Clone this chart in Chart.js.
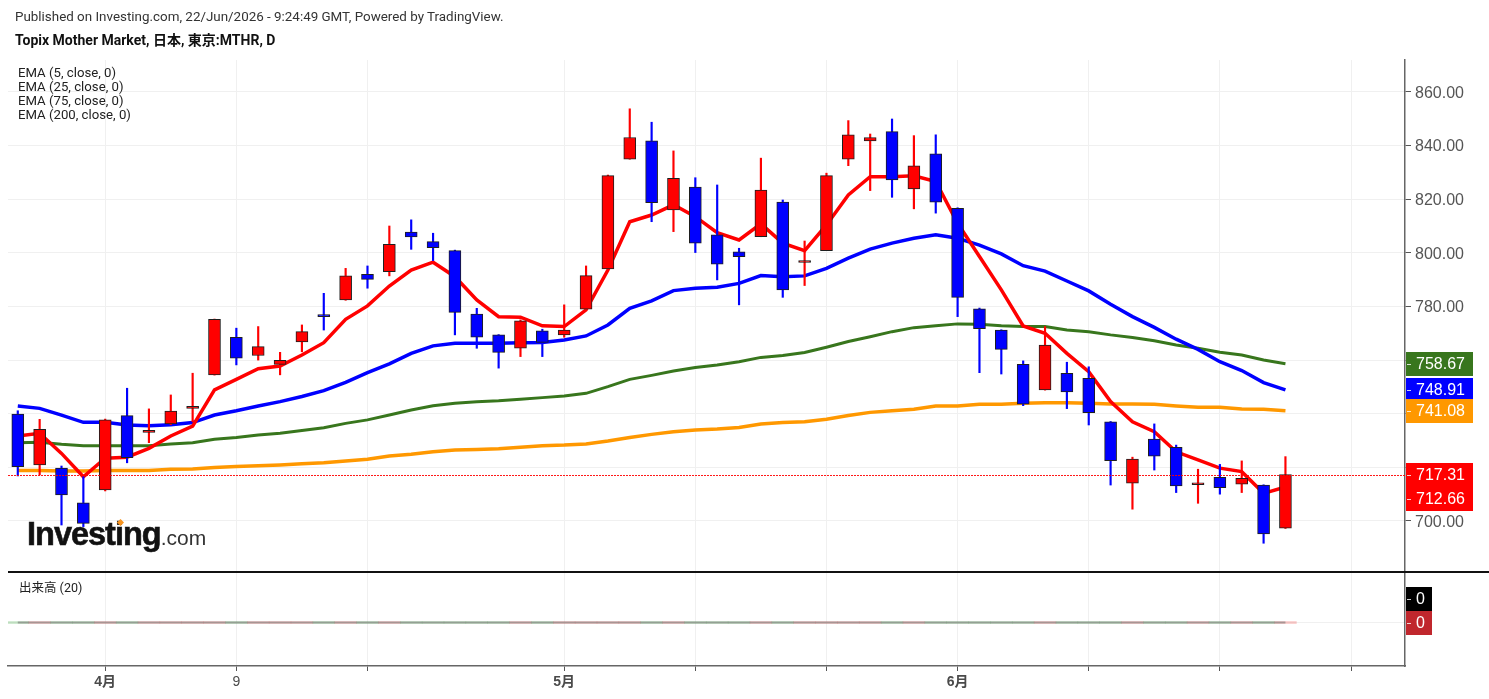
<!DOCTYPE html>
<html>
<head>
<meta charset="utf-8">
<script src="https://cdn.jsdelivr.net/npm/chart.js@4.4.1/dist/chart.umd.min.js"></script>
<style>
  body { margin: 0; background: #fff; width: 1489px; height: 699px; overflow: hidden; position: relative; font-family: Roboto, "Noto Sans CJK JP", sans-serif; color: #222; }
  #price { position: absolute; left: 0; top: 0; }
  #vol { position: absolute; left: 0; top: 572px; }
  #sep { position: absolute; left: 8px; top: 571px; width: 1481px; height: 2px; background: #111; }
  .txt { position: absolute; white-space: nowrap; }
  #pub { left: 15px; top: 9px; font-size: 13.4px; line-height: 16px; color: #333; }
  #title { left: 15px; top: 32px; font-size: 14px; line-height: 16px; font-weight: bold; color: #111; }
  #legend { left: 18px; top: 65.5px; font-size: 13.2px; line-height: 14.2px; color: #222; }
  #vlabel { left: 19px; top: 580px; font-size: 12.5px; line-height: 16px; color: #222; }
  #logo { left: 27px; top: 518px; font-family: "Liberation Sans", Arial, sans-serif; line-height: 32px; }
  #logo .a { font-size: 32.5px; font-weight: bold; letter-spacing: -1px; color: #111; -webkit-text-stroke: 0.6px #111; }
  #logo .b { font-size: 21px; color: #333; }
  #dot { position: absolute; left: 118px; top: 520px; width: 5px; height: 5px; background: #f7931e; transform: rotate(45deg); }
</style>
</head>
<body>
<canvas id="price" width="1489" height="571"></canvas>
<canvas id="vol" width="1489" height="127"></canvas>
<div id="sep"></div>
<div class="txt" id="pub">Published on Investing.com, 22/Jun/2026 - 9:24:49 GMT, Powered by TradingView.</div>
<div class="txt" id="title">Topix Mother Market, 日本, 東京:MTHR, D</div>
<div class="txt" id="legend">EMA (5, close, 0)<br>EMA (25, close, 0)<br>EMA (75, close, 0)<br>EMA (200, close, 0)</div>
<div class="txt" id="vlabel">出来高 (20)</div>
<div class="txt" id="logo"><span class="a">Investing</span><span class="b">.com</span></div>
<div id="dot"></div>
<script>
// daily candles
const opens = [739.9, 720.9, 719.7, 706.8, 711.6, 739.3, 733.0, 736.2, 742.0, 754.5,
  768.5, 761.7, 758.4, 766.8, 776.9, 782.4, 792.0, 793.0, 807.7, 804.2,
  800.8, 777.2, 769.4, 764.4, 770.9, 769.4, 779.0, 794.0, 834.9, 841.8,
  816.0, 824.5, 806.7, 800.4, 806.0, 818.9, 796.4, 800.8, 834.9, 841.7,
  845.2, 823.8, 836.9, 816.6, 779.1, 771.2, 758.4, 748.9, 755.1, 753.2,
  737.0, 714.1, 730.5, 727.5, 713.5, 716.3, 713.7, 713.4, 697.3];
const highs = [741.1, 737.9, 720.5, 716.5, 738.0, 749.5, 741.8, 747.0, 755.1, 775.3,
  771.9, 772.5, 762.9, 773.1, 784.9, 794.2, 795.1, 810.0, 812.3, 807.3,
  801.0, 779.3, 769.5, 775.0, 771.5, 780.6, 795.1, 829.0, 853.7, 848.7,
  838.0, 828.0, 825.3, 801.7, 835.3, 819.7, 804.4, 829.7, 849.3, 844.3,
  849.9, 843.7, 844.0, 816.8, 779.4, 771.3, 759.7, 772.5, 759.2, 757.5,
  737.1, 723.8, 736.2, 728.3, 719.3, 721.1, 722.4, 713.5, 724.0];
const lows = [716.8, 717.2, 698.5, 697.9, 711.2, 721.7, 729.2, 735.9, 737.0, 754.4,
  758.2, 760.0, 754.5, 763.1, 771.2, 782.3, 786.8, 791.4, 801.3, 797.1,
  769.4, 764.4, 757.0, 761.3, 761.3, 768.5, 779.0, 793.9, 834.9, 811.6,
  807.9, 800.1, 789.9, 780.6, 806.0, 783.4, 787.8, 800.8, 832.5, 823.2,
  820.7, 816.4, 814.8, 776.2, 755.3, 754.8, 743.0, 748.8, 741.9, 735.8,
  713.4, 704.4, 719.0, 710.6, 706.6, 710.0, 710.6, 691.7, 697.2];
const closes = [720.3, 734.2, 709.7, 699.1, 737.7, 723.6, 733.8, 741.0, 742.8, 775.2,
  760.7, 765.0, 759.9, 770.6, 776.2, 791.4, 790.1, 803.2, 805.9, 801.9,
  777.8, 768.5, 762.9, 774.6, 766.6, 771.2, 791.5, 828.8, 843.0, 818.7,
  827.8, 803.6, 795.8, 798.6, 823.4, 786.2, 797.1, 828.8, 844.0, 843.0,
  827.2, 832.4, 818.9, 783.4, 771.7, 764.0, 743.6, 765.6, 748.1, 740.4,
  722.5, 723.1, 724.2, 713.1, 714.2, 712.4, 715.9, 695.2, 717.31];

const ema5 = [731.7, 732.7, 725.2, 716.5, 723.4, 723.8, 727.1, 731.7, 735.4, 748.9,
  752.8, 756.8, 757.8, 761.9, 766.5, 775.2, 780.2, 787.6, 793.6, 796.5,
  791.1, 782.4, 776.2, 776.0, 772.8, 772.5, 778.7, 793.6, 811.6, 814.1,
  817.9, 813.5, 807.5, 804.8, 810.8, 803.6, 800.8, 810.4, 821.6, 828.4,
  828.4, 828.7, 826.6, 811.0, 798.6, 786.2, 772.7, 770.0, 762.5, 755.7,
  744.5, 737.0, 733.3, 725.8, 722.8, 719.7, 718.4, 710.3, 712.66];
const ema25 = [742.9, 742.0, 739.5, 736.8, 736.8, 735.8, 735.5, 735.9, 736.7, 739.5,
  741.1, 742.9, 744.5, 746.4, 748.6, 751.7, 755.3, 758.6, 762.5, 765.3,
  766.3, 766.3, 766.3, 766.5, 766.6, 767.5, 769.0, 773.1, 779.3, 782.1,
  785.9, 786.8, 787.2, 788.6, 791.5, 791.1, 791.4, 794.2, 798.0, 801.4,
  803.6, 805.4, 806.7, 805.4, 802.9, 799.6, 795.2, 793.2, 789.5, 785.8,
  780.8, 776.2, 772.2, 767.8, 764.0, 759.4, 756.1, 751.6, 748.91];
const ema75 = [729.2, 729.4, 728.6, 728.1, 728.1, 728.1, 728.1, 728.7, 729.2, 730.5,
  731.1, 732.1, 732.7, 733.7, 734.8, 736.4, 737.7, 739.5, 741.4, 743.0,
  743.9, 744.5, 744.8, 745.4, 746.0, 746.6, 747.6, 750.1, 752.8, 754.3,
  755.9, 757.2, 758.2, 759.4, 761.0, 761.7, 762.8, 764.8, 766.9, 768.7,
  770.6, 772.1, 772.8, 773.5, 773.4, 772.8, 772.5, 772.5, 771.2, 770.6,
  769.4, 768.4, 767.2, 765.6, 764.4, 762.9, 761.9, 760.0, 758.67];
const ema200 = [718.8, 718.8, 718.6, 718.6, 718.8, 718.8, 718.8, 719.3, 719.4, 719.9,
  720.3, 720.6, 720.9, 721.3, 721.7, 722.4, 723.0, 724.2, 724.9, 725.8,
  726.5, 726.7, 726.9, 727.5, 728.1, 728.3, 728.7, 729.8, 731.1, 732.3,
  733.3, 733.9, 734.3, 734.9, 736.2, 736.7, 737.0, 737.9, 739.3, 740.5,
  741.1, 741.7, 742.9, 742.9, 743.5, 743.5, 743.9, 744.1, 744.1, 743.9,
  743.6, 743.6, 743.5, 742.9, 742.4, 742.4, 741.8, 741.7, 741.08];

// volume pane: the feed reports zero volume
const volumes = closes.map(() => 0);
const volumeMa = closes.map(() => 0);

const priceTicks = [700, 720, 740, 760, 780, 800, 820, 840, 860];
const tickIdx = [4, 10, 16, 25, 31, 37, 43, 49, 55, 61];
const tickLabels = ["4月", "9", "", "5月", "", "", "6月", "", "", ""];

const RED = "#ff0000";
const BLUE = "#0000ff";
const GREEN = "#38761d";
const ORANGE = "#ff9800";
const GRID = "#f0f0f0";
const X_MIN = -0.448;
const X_MAX = 63.47;

const n = closes.length;
const up = closes.map((c, i) => c >= opens[i]);
const candleColor = (ctx) => (up[ctx.dataIndex] ? RED : BLUE);

function emaLine(values, color, width, order) {
  return {
    type: "line",
    data: values.map((v, i) => ({ x: i, y: v })),
    borderColor: color,
    borderWidth: width,
    pointRadius: 0,
    tension: 0,
    order,
  };
}

function setTicks(values) {
  return (scale) => {
    scale.ticks = values.map((v) => ({ value: v }));
  };
}

function box(ctx, x, yc, w, h, bg, text) {
  ctx.fillStyle = bg;
  ctx.fillRect(x, Math.round(yc - h / 2), w, h);
  ctx.strokeStyle = "rgba(255,255,255,0.8)";
  ctx.lineWidth = 1;
  ctx.beginPath();
  ctx.moveTo(x + 1, Math.round(yc) + 0.5);
  ctx.lineTo(x + 5, Math.round(yc) + 0.5);
  ctx.stroke();
  ctx.fillStyle = "#fff";
  ctx.font = '16px "Liberation Sans", Arial, sans-serif';
  ctx.textBaseline = "middle";
  ctx.textAlign = "left";
  ctx.fillText(text, x + 10, yc + 1);
}

const lastLabels = {
  id: "lastLabels",
  afterDatasetsDraw(chart) {
    const { ctx, chartArea: a, scales: { y } } = chart;
    const last = closes[n - 1];
    ctx.save();
    const py = Math.round(y.getPixelForValue(last)) + 0.5;
    ctx.strokeStyle = "rgba(255,0,0,0.9)";
    ctx.lineWidth = 1;
    ctx.setLineDash([2, 1]);
    ctx.beginPath();
    ctx.moveTo(a.left, py);
    ctx.lineTo(a.right, py);
    ctx.stroke();
    ctx.restore();
  },
  afterDraw(chart) {
    const { ctx, chartArea: a, scales: { y } } = chart;
    const items = [
      { v: ema75[n - 1], c: GREEN },
      { v: ema25[n - 1], c: BLUE },
      { v: ema200[n - 1], c: ORANGE },
      { v: closes[n - 1], c: RED },
      { v: ema5[n - 1], c: RED },
    ];
    ctx.save();
    let prev = -Infinity;
    items.forEach((it) => {
      let yc = y.getPixelForValue(it.v);
      if (yc - prev < 16) yc = prev + 24;
      prev = yc;
      box(ctx, a.right + 1, yc, 67, 24, it.c, it.v.toFixed(2));
    });
    ctx.restore();
  },
};

const volLabels = {
  id: "volLabels",
  afterDraw(chart) {
    const { ctx, chartArea: a, scales: { y } } = chart;
    const y0 = y.getPixelForValue(volumes[n - 1]);
    ctx.save();
    box(ctx, a.right + 1, y0 - 23.5, 26, 24, "#000", String(volumeMa[n - 1]));
    box(ctx, a.right + 1, y0 + 0.5, 26, 24, "#c0272d", String(volumes[n - 1]));
    ctx.restore();
  },
};

new Chart(document.getElementById("price"), {
  type: "bar",
  data: {
    datasets: [
      {
        type: "bar",
        data: opens.map((o, i) => ({ x: i, y: [o, closes[i]] })),
        backgroundColor: candleColor,
        borderColor: "#1e1e1e",
        borderWidth: 1,
        borderSkipped: false,
        barThickness: 12,
        minBarLength: 2,
        grouped: false,
        order: 0,
      },
      {
        type: "bar",
        data: lows.map((l, i) => ({ x: i, y: [l, highs[i]] })),
        backgroundColor: candleColor,
        borderWidth: 0,
        barThickness: 1.5,
        grouped: false,
        order: 1,
      },
      emaLine(ema5, RED, 3.5, 2),
      emaLine(ema25, BLUE, 3.5, 3),
      emaLine(ema75, GREEN, 3, 4),
      emaLine(ema200, ORANGE, 3.5, 5),
    ],
  },
  options: {
    responsive: false,
    animation: false,
    devicePixelRatio: 1,
    layout: { padding: { left: 8, top: 60, right: 0, bottom: 0 } },
    plugins: { legend: { display: false }, tooltip: { enabled: false } },
    scales: {
      x: {
        type: "linear",
        min: X_MIN,
        max: X_MAX,
        offset: false,
        afterBuildTicks: setTicks(tickIdx),
        ticks: { display: false },
        grid: { color: GRID, drawTicks: false, offset: false },
        border: { display: false },
        afterFit: (s) => { s.height = 0; s.paddingLeft = 0; s.paddingRight = 0; },
      },
      y: {
        position: "right",
        min: 681.35,
        max: 871.9,
        afterBuildTicks: setTicks(priceTicks),
        ticks: {
          // labels under the last-price box are hidden, as on the original
          callback: (v) => (Math.abs(v - closes[n - 1]) < 6 ? "" : Number(v).toFixed(2)),
          color: "#555",
          font: { family: '"Liberation Sans", Arial, sans-serif', size: 16 },
          padding: 4,
          labelOffset: 1.5,
        },
        grid: { color: GRID, tickColor: "#555", tickLength: 6 },
        border: { color: "#666", width: 1.5 },
        afterFit: (s) => { s.width = 84; s.paddingTop = 0; s.paddingBottom = 0; },
      },
    },
  },
  plugins: [lastLabels],
});

new Chart(document.getElementById("vol"), {
  type: "bar",
  data: {
    datasets: [
      {
        type: "line",
        data: volumeMa.map((v, i) => ({ x: i, y: v })),
        borderColor: "rgba(120,120,120,0.6)",
        borderWidth: 2,
        pointRadius: 0,
        order: 0,
      },
      {
        type: "bar",
        data: volumes.map((v, i) => ({ x: i, y: v })),
        backgroundColor: (ctx) => (up[ctx.dataIndex] ? "rgba(239,83,80,0.3)" : "rgba(76,175,80,0.3)"),
        barThickness: 21.8,
        minBarLength: 2,
        order: 1,
      },
    ],
  },
  options: {
    responsive: false,
    animation: false,
    devicePixelRatio: 1,
    layout: { padding: { left: 8, top: 0, right: 0, bottom: 0 } },
    plugins: { legend: { display: false }, tooltip: { enabled: false } },
    scales: {
      x: {
        type: "linear",
        min: X_MIN,
        max: X_MAX,
        offset: false,
        afterBuildTicks: setTicks(tickIdx),
        ticks: {
          autoSkip: false,
          maxRotation: 0,
          callback: (v, i) => tickLabels[i],
          color: "#4a4a4a",
          padding: 3,
          font: (ctx) => ({
            family: '"Liberation Sans", "Noto Sans CJK JP", sans-serif',
            size: 14,
            weight: tickLabels[ctx.index] && tickLabels[ctx.index].includes("月") ? "bold" : "normal",
          }),
        },
        grid: { color: GRID, tickColor: "#555", tickLength: 5, offset: false },
        border: { color: "#666", width: 1.5 },
        afterFit: (s) => { s.height = 33; s.paddingLeft = 0; s.paddingRight = 0; },
      },
      y: {
        position: "right",
        min: -0.86,
        max: 1,
        afterBuildTicks: setTicks([0]),
        ticks: { display: false },
        grid: { color: GRID, drawTicks: false },
        border: { color: "#666", width: 1.5 },
        afterFit: (s) => { s.width = 84; s.paddingTop = 0; s.paddingBottom = 0; },
      },
    },
  },
  plugins: [volLabels],
});
</script>
</body>
</html>
